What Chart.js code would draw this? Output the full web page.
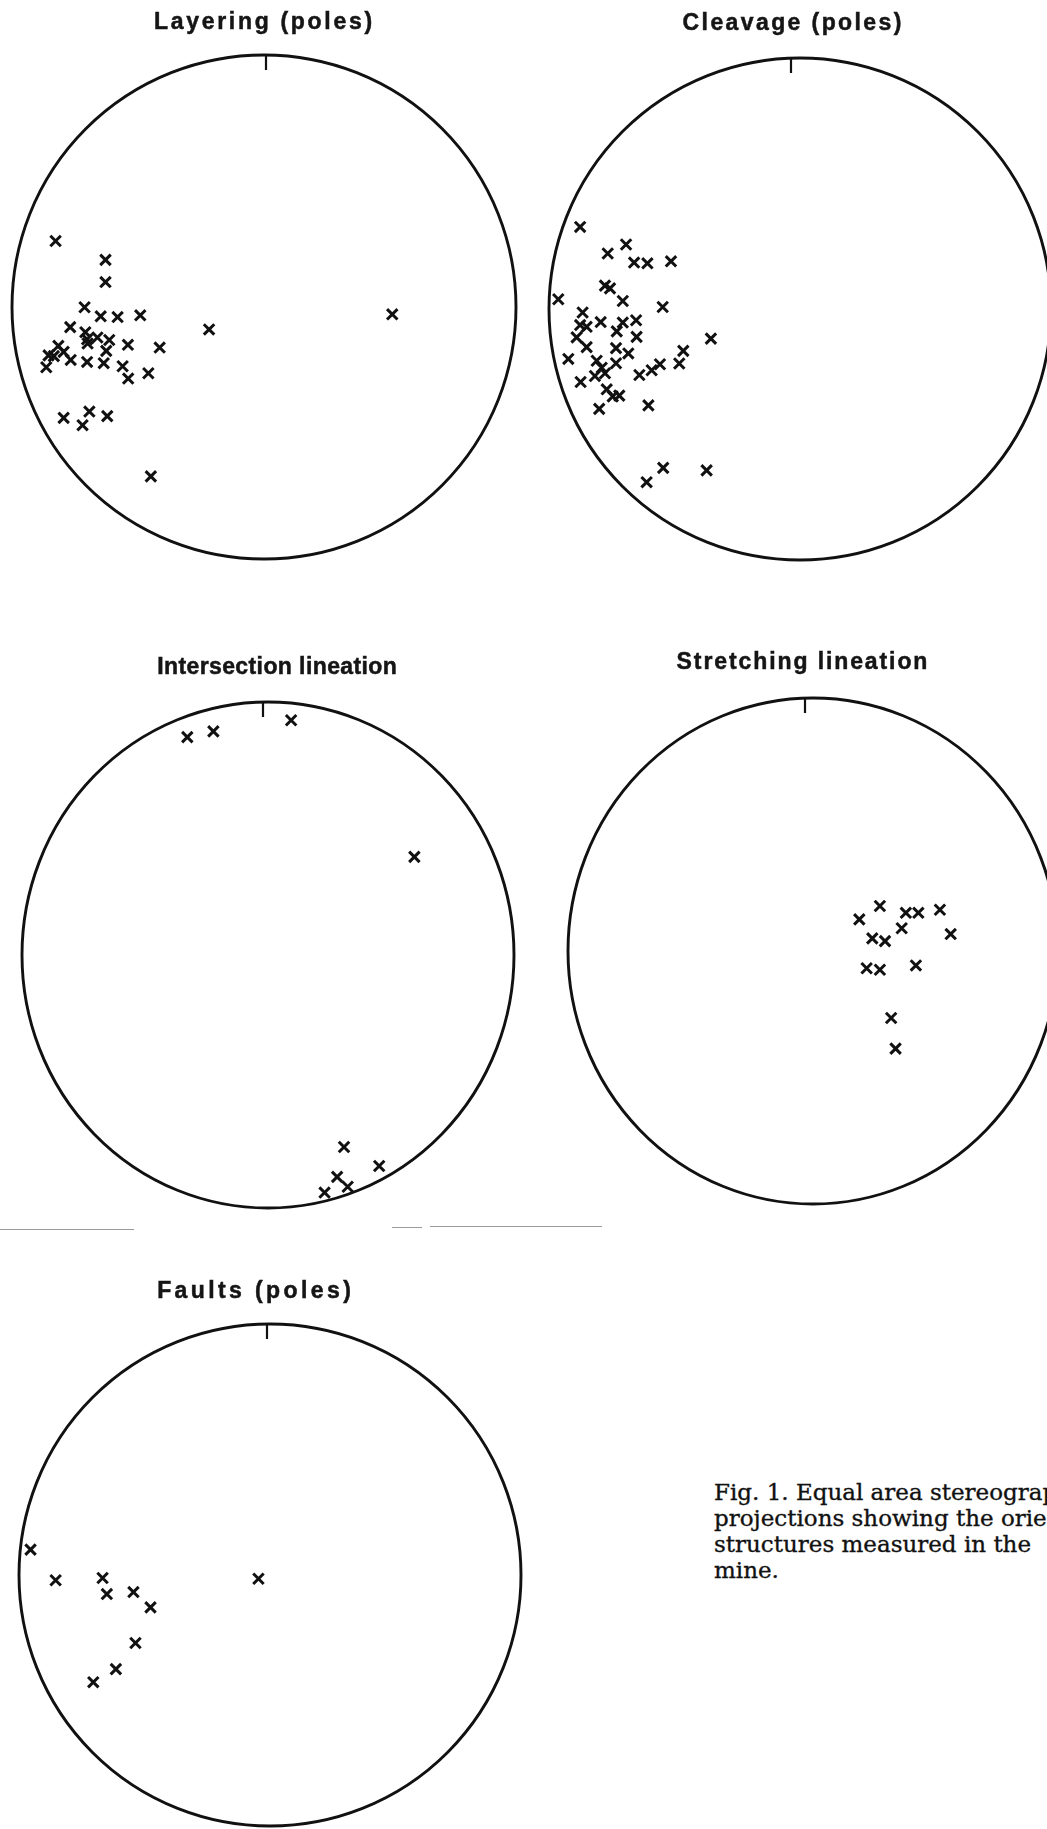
<!DOCTYPE html>
<html>
<head>
<meta charset="utf-8">
<title>Equal area stereographic projections</title>
<script src="https://cdn.jsdelivr.net/npm/chart.js@4.4.0/dist/chart.umd.min.js"></script>
<style>
  html, body { margin: 0; padding: 0; background: #fff; }
  body { position: relative; width: 1047px; height: 1829px; overflow: hidden; }
  canvas.net { position: absolute; }
  .caption {
    position: absolute; left: 714px; top: 1479px;
    font-family: "DejaVu Serif", "Liberation Serif", serif;
    font-size: 23px; line-height: 26px; color: #111;
    -webkit-text-stroke: 0.35px #111;
    white-space: nowrap;
  }
  .rule { position: absolute; height: 1px; background: #9a9a9a; }
</style>
</head>
<body>

<canvas class="net" id="layering"></canvas>
<canvas class="net" id="cleavage"></canvas>
<canvas class="net" id="intersection"></canvas>
<canvas class="net" id="stretching"></canvas>
<canvas class="net" id="faults"></canvas>

<div class="rule" style="left:0px; top:1229px; width:134px;"></div>
<div class="rule" style="left:392px; top:1227px; width:30px;"></div>
<div class="rule" style="left:430px; top:1226px; width:172px;"></div>

<div class="caption">
  <div>Fig. 1. Equal area stereographic</div>
  <div>projections showing the orientation of</div>
  <div>structures measured in the</div>
  <div>mine.</div>
</div>

<script>
// Projected positions on the net, in units of the primitive radius
// (east = +x, north = +y).

// Layering (poles)
const layeringEast  = [-0.827, -0.629, -0.629, -0.712, -0.648, -0.581, -0.491, -0.218, 0.509,
                       -0.769, -0.709, -0.702, -0.661, -0.614, -0.700, -0.540, -0.414, -0.816,
                       -0.795, -0.855, -0.834, -0.626, -0.767, -0.702, -0.636, -0.864, -0.561,
                       -0.539, -0.459, -0.795, -0.693, -0.720, -0.622, -0.449];
const layeringNorth = [0.262, 0.187, 0.099, -0.001, -0.037, -0.040, -0.033, -0.089, -0.029,
                       -0.080, -0.100, -0.128, -0.121, -0.131, -0.145, -0.150, -0.161, -0.154,
                       -0.178, -0.192, -0.195, -0.174, -0.210, -0.218, -0.223, -0.239, -0.235,
                       -0.284, -0.263, -0.440, -0.415, -0.469, -0.433, -0.672];

// Cleavage (poles)
const cleavageEast  = [-0.876, -0.693, -0.766, -0.661, -0.608, -0.514, -0.777, -0.757, -0.963,
                       -0.706, -0.547, -0.866, -0.876, -0.850, -0.794, -0.706, -0.653, -0.730,
                       -0.651, -0.355, -0.890, -0.850, -0.733, -0.684, -0.465, -0.923, -0.810,
                       -0.733, -0.790, -0.777, -0.817, -0.874, -0.640, -0.591, -0.558, -0.481,
                       -0.770, -0.746, -0.720, -0.800, -0.604, -0.545, -0.372, -0.611];
const cleavageNorth = [0.327, 0.257, 0.221, 0.185, 0.182, 0.190, 0.093, 0.082, 0.039,
                       0.032, 0.008, -0.014, -0.064, -0.071, -0.052, -0.054, -0.045, -0.089,
                       -0.111, -0.118, -0.113, -0.152, -0.156, -0.177, -0.167, -0.199, -0.206,
                       -0.216, -0.234, -0.256, -0.267, -0.291, -0.263, -0.244, -0.220, -0.217,
                       -0.320, -0.348, -0.345, -0.398, -0.384, -0.633, -0.643, -0.690];

// Intersection lineation
const intersectionEast  = [-0.328, -0.222, 0.094, 0.595, 0.309, 0.452, 0.281, 0.324, 0.230];
const intersectionNorth = [0.861, 0.884, 0.928, 0.388, -0.759, -0.834, -0.877, -0.916, -0.939];

// Stretching lineation
const stretchingEast  = [0.189, 0.273, 0.379, 0.430, 0.518, 0.362, 0.242, 0.294, 0.562,
                         0.219, 0.273, 0.420, 0.319, 0.337];
const stretchingNorth = [0.125, 0.178, 0.151, 0.151, 0.163, 0.090, 0.050, 0.039, 0.067,
                         -0.068, -0.074, -0.057, -0.265, -0.386];

// Faults (poles)
const faultsEast  = [-0.954, -0.854, -0.667, -0.650, -0.544, -0.476, -0.046, -0.536, -0.614, -0.704];
const faultsNorth = [0.101, -0.021, -0.012, -0.076, -0.068, -0.129, -0.015, -0.271, -0.375, -0.427];

const panelTitles = ['Layering (poles)', 'Cleavage (poles)', 'Intersection lineation',
                     'Stretching lineation', 'Faults (poles)'];

// Primitive circle with a north mark, drawn through the chart's own scales.
const primitiveCircle = {
  id: 'primitiveCircle',
  beforeDatasetsDraw(chart, args, opts) {
    const { ctx, scales: { x, y } } = chart;
    const cx = x.getPixelForValue(0), cy = y.getPixelForValue(0);
    const rx = x.getPixelForValue(1) - cx, ry = cy - y.getPixelForValue(1);
    ctx.save();
    ctx.strokeStyle = '#111';
    ctx.lineWidth = 2.9;
    ctx.beginPath();
    ctx.ellipse(cx, cy, rx, ry, 0, 0, Math.PI * 2);
    ctx.stroke();
    const top = y.getPixelForValue(1);
    const tx = cx + (opts.tickShift || 0);
    ctx.lineWidth = 2.2;
    ctx.beginPath();
    ctx.moveTo(tx, top);
    ctx.lineTo(tx, top + 15);
    ctx.stroke();
    ctx.restore();
  }
};

// Panel heading above the net.
const netTitle = {
  id: 'netTitle',
  afterDraw(chart, args, opts) {
    const { ctx, chartArea } = chart;
    ctx.save();
    ctx.font = 'bold 23px "Liberation Sans", Arial, sans-serif';
    ctx.fillStyle = '#151515';
    ctx.strokeStyle = '#151515';
    ctx.lineWidth = 0.5;
    ctx.textAlign = 'center';
    ctx.textBaseline = 'alphabetic';
    const sp = opts.spacing || 0;
    if ('letterSpacing' in ctx) ctx.letterSpacing = sp + 'px';
    const tx = (chartArea.left + chartArea.right) / 2 + sp / 2 + (opts.shift || 0);
    const ty = chartArea.top - 26 - (opts.rise || 0);
    ctx.fillText(opts.text, tx, ty);
    ctx.strokeText(opts.text, tx, ty);
    ctx.restore();
  }
};

const PAD = { top: 50, left: 14, right: 14, bottom: 14 };

function drawNet(id, title, east, north, g) {
  const canvas = document.getElementById(id);
  canvas.width = Math.round(2 * g.rx + PAD.left + PAD.right);
  canvas.height = Math.round(2 * g.ry + PAD.top + PAD.bottom);
  canvas.style.left = (g.cx - g.rx - PAD.left) + 'px';
  canvas.style.top = (g.cy - g.ry - PAD.top) + 'px';
  const points = east.map((e, i) => ({ x: e, y: north[i] }));
  return new Chart(canvas, {
    type: 'scatter',
    data: {
      datasets: [{
        data: points,
        pointStyle: 'crossRot',
        pointRadius: 7.4,
        pointBorderWidth: 3,
        borderWidth: 3,
        borderColor: '#111',
        pointBorderColor: '#111',
        backgroundColor: '#111',
        clip: false
      }]
    },
    options: {
      responsive: false,
      animation: false,
      events: [],
      devicePixelRatio: 1,
      layout: { padding: PAD },
      scales: {
        x: { type: 'linear', min: -1, max: 1, display: false },
        y: { type: 'linear', min: -1, max: 1, display: false }
      },
      plugins: {
        legend: { display: false },
        tooltip: { enabled: false },
        primitiveCircle: { tickShift: g.tickShift },
        netTitle: { text: title, spacing: g.spacing, shift: g.titleShift, rise: g.rise }
      }
    },
    plugins: [primitiveCircle, netTitle]
  });
}

drawNet('layering', panelTitles[0], layeringEast, layeringNorth,
  { cx: 264, cy: 307, rx: 252, ry: 252, tickShift: 2, spacing: 2.7, titleShift: -1, rise: 0 });
drawNet('cleavage', panelTitles[1], cleavageEast, cleavageNorth,
  { cx: 800, cy: 309, rx: 251, ry: 251, tickShift: -9, spacing: 2.4, titleShift: -8, rise: 2 });
drawNet('intersection', panelTitles[2], intersectionEast, intersectionNorth,
  { cx: 267.5, cy: 955, rx: 246, ry: 253, tickShift: -5, spacing: 0.4, titleShift: 9, rise: 2 });
drawNet('stretching', panelTitles[3], stretchingEast, stretchingNorth,
  { cx: 813, cy: 951.3, rx: 245, ry: 253, tickShift: -8, spacing: 1.9, titleShift: -11, rise: 3 });
drawNet('faults', panelTitles[4], faultsEast, faultsNorth,
  { cx: 270, cy: 1575, rx: 251, ry: 251, tickShift: -3, spacing: 3.4, titleShift: -16, rise: 0 });
</script>
</body>
</html>
